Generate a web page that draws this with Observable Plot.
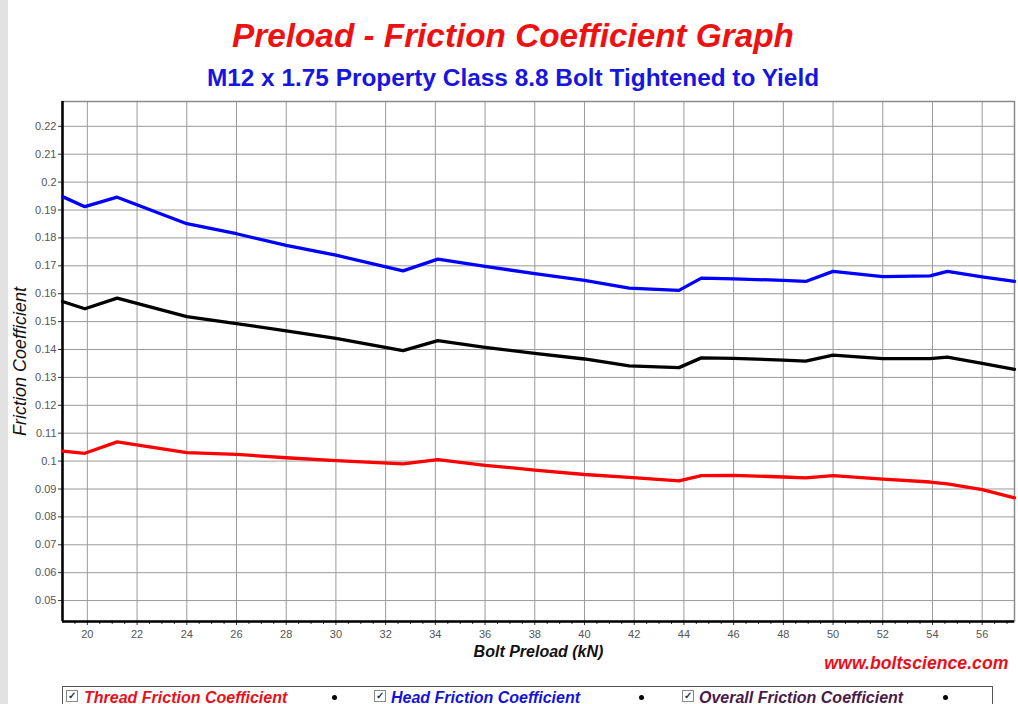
<!DOCTYPE html>
<html>
<head>
<meta charset="utf-8">
<script src="https://cdn.jsdelivr.net/npm/d3@7"></script>
<script src="https://cdn.jsdelivr.net/npm/@observablehq/plot@0.6"></script>
<style>
  html, body { margin: 0; padding: 0; }
  body {
    width: 1018px; height: 704px; overflow: hidden; position: relative;
    background: linear-gradient(to right, #e2e2e2 8px, #ffffff 8px);
    font-family: "Liberation Sans", Arial, sans-serif;
  }
  #header { height: 92px; padding-left: 8px; text-align: center; }
  #title { padding-top: 17px; font-size: 33.3px; line-height: 38px; font-weight: bold; font-style: italic; color: #ee1111; }
  #subtitle { margin-top: 10px; font-size: 24.4px; line-height: 26px; font-weight: bold; color: #1616e0; }
  #chart svg { display: block; }
  #legend {
    position: absolute; left: 62px; top: 686px; width: 929px; height: 26px;
    border: 1px solid #555; background: #fff;
    font-size: 16px; font-weight: bold; font-style: italic;
  }
  .item { position: absolute; top: 1px; line-height: 20px; white-space: nowrap; }
  .cb { position: absolute; top: 3px; width: 10px; height: 10px; border: 1px solid #888; background: #fff;
        font-size: 10px; line-height: 10px; text-align: center; font-style: normal; color: #333; }
  .dot { position: absolute; top: 8px; width: 5px; height: 5px; border-radius: 50%; background: #000; }
</style>
</head>
<body>
<div id="header">
  <div id="title">Preload - Friction Coefficient Graph</div>
  <div id="subtitle">M12 x 1.75 Property Class 8.8 Bolt Tightened to Yield</div>
</div>
<div id="chart"></div>
<div id="legend"></div>
<script>
// ---- data ----
const preload = [19.0, 19.9, 21.2, 24, 26, 28, 30, 32.7, 34.1, 36, 38, 40, 41.8, 43.8, 44.7, 46, 48, 48.9, 50, 52, 53.9, 54.6, 56, 57.3];
const thread  = [0.1036, 0.1028, 0.1069, 0.1030, 0.1024, 0.1012, 0.1002, 0.0990, 0.1005, 0.0985, 0.0968, 0.0952, 0.0942, 0.0929, 0.0948, 0.0949, 0.0943, 0.0940, 0.0948, 0.0935, 0.0925, 0.0918, 0.0898, 0.0868];
const head    = [0.1948, 0.1912, 0.1946, 0.1851, 0.1815, 0.1773, 0.1738, 0.1682, 0.1724, 0.1698, 0.1672, 0.1648, 0.1620, 0.1612, 0.1656, 0.1653, 0.1648, 0.1644, 0.1680, 0.1661, 0.1664, 0.1680, 0.1660, 0.1644];
const overall = [0.1572, 0.1546, 0.1584, 0.1518, 0.1493, 0.1467, 0.1440, 0.1396, 0.1432, 0.1408, 0.1386, 0.1366, 0.1341, 0.1335, 0.1370, 0.1368, 0.1362, 0.1358, 0.1380, 0.1367, 0.1367, 0.1373, 0.1350, 0.1329];

const seriesNames = ["Thread Friction Coefficient", "Head Friction Coefficient", "Overall Friction Coefficient"];
const seriesColors = ["#ff0000", "#0000ff", "#000000"];
const legendTextColors = ["#e8101a", "#1414d8", "#4a1a4a"];

const xTicks = [20, 22, 24, 26, 28, 30, 32, 34, 36, 38, 40, 42, 44, 46, 48, 50, 52, 54, 56];
const xMinorTicks = [19.5, 20.5, 21, 21.5, 22.5, 23, 23.5, 24.5, 25, 25.5, 26.5, 27, 27.5, 28.5, 29, 29.5, 30.5, 31, 31.5, 32.5, 33, 33.5, 34.5, 35, 35.5, 36.5, 37, 37.5, 38.5, 39, 39.5, 40.5, 41, 41.5, 42.5, 43, 43.5, 44.5, 45, 45.5, 46.5, 47, 47.5, 48.5, 49, 49.5, 50.5, 51, 51.5, 52.5, 53, 53.5, 54.5, 55, 55.5, 56.5, 57];
const yTicks = [0.05, 0.06, 0.07, 0.08, 0.09, 0.10, 0.11, 0.12, 0.13, 0.14, 0.15, 0.16, 0.17, 0.18, 0.19, 0.20, 0.21, 0.22];
const xDomain = [19, 57.3];
const yDomain = [0.0425, 0.2289];

// ---- long table built from the arrays ----
const rows = [];
[thread, head, overall].forEach((vals, s) => {
  vals.forEach((v, i) => rows.push({preload: preload[i], value: v, series: seriesNames[s]}));
});

const chart = Plot.plot({
  width: 1018,
  height: 586,
  marginLeft: 62,
  marginRight: 4,
  marginTop: 9,
  marginBottom: 57,
  style: {fontFamily: "'Liberation Sans', Arial, sans-serif", fontSize: "11px", background: "transparent", color: "#555"},
  x: {domain: xDomain},
  y: {domain: yDomain},
  color: {domain: seriesNames, range: seriesColors},
  marks: [
    Plot.gridX(xTicks, {stroke: "#9a9a9a", strokeOpacity: 1, strokeWidth: 1}),
    Plot.gridY(yTicks, {stroke: "#9a9a9a", strokeOpacity: 1, strokeWidth: 1}),
    Plot.frame({stroke: "#8a8a8a", strokeWidth: 1.5}),
    Plot.axisX(xMinorTicks, {tickSize: 3, tickFormat: () => "", stroke: "#333", label: null}),
    Plot.axisX(xTicks, {tickSize: 4, tickPadding: 5, tickFormat: d => String(d), stroke: "#333", fill: "#555", label: null}),
    Plot.axisY(yTicks, {tickSize: 4, tickPadding: 2, tickFormat: d => String(+d.toFixed(2)), stroke: "#333", fill: "#555", label: null}),
    Plot.ruleX([xDomain[0]], {stroke: "#000", strokeWidth: 2.5}),
    Plot.ruleY([yDomain[0]], {stroke: "#000", strokeWidth: 2.5}),
    Plot.line(rows, {x: "preload", y: "value", z: "series", stroke: "series", strokeWidth: 3.3}),
    Plot.text(["Friction Coefficient"], {frameAnchor: "left", rotate: -90, dx: -42, text: d => d, textAnchor: "middle", fontSize: 18, fontStyle: "italic", fill: "#111", lineAnchor: "middle"}),
    Plot.text(["Bolt Preload (kN)"], {frameAnchor: "bottom", dy: 30, text: d => d, textAnchor: "middle", fontSize: 16, fontWeight: "bold", fontStyle: "italic", fill: "#111", lineAnchor: "middle"}),
    Plot.text(["www.boltscience.com"], {frameAnchor: "bottom-right", dx: -6, dy: 42, textAnchor: "end", text: d => d, fontSize: 17.7, fontWeight: "bold", fontStyle: "italic", fill: "#e8101a", lineAnchor: "middle"})
  ]
});
document.getElementById("chart").appendChild(chart);

// ---- legend (HTML, below the chart) ----
const legend = document.getElementById("legend");
const cbX = [3, 311, 619];
const txtX = [21, 328, 636];
const dotX = [269, 576, 880];
seriesNames.forEach((name, i) => {
  const cb = document.createElement("span");
  cb.className = "cb"; cb.style.left = cbX[i] + "px"; cb.textContent = "✓";
  legend.appendChild(cb);
  const t = document.createElement("span");
  t.className = "item"; t.style.left = txtX[i] + "px"; t.style.color = legendTextColors[i];
  t.textContent = name;
  legend.appendChild(t);
  const d = document.createElement("span");
  d.className = "dot"; d.style.left = dotX[i] + "px";
  legend.appendChild(d);
});
</script>
</body>
</html>
